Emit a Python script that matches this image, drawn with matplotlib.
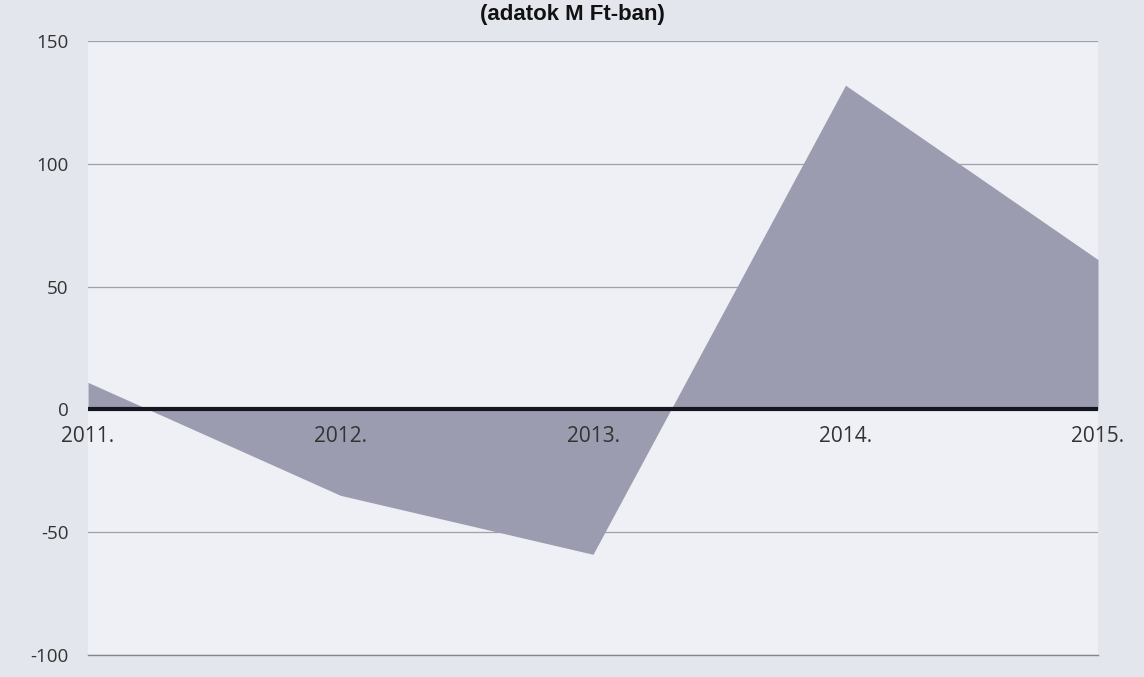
import matplotlib
matplotlib.use("Agg")
import matplotlib.pyplot as plt

years = ["2011.", "2012.", "2013.", "2014.", "2015."]
values = [11, -35, -59, 132, 61]
yticks = [-100, -50, 0, 50, 100, 150]
title = "(adatok M Ft-ban)"

plt.rcParams['font.family'] = ['Open Sans', 'DejaVu Sans']

fig = plt.figure(figsize=(11.44, 6.77), dpi=100, facecolor='#e4e6ed')
ax = fig.add_axes([88/1144, 1-655/677, (1098-88)/1144, (655-41)/677])
ax.set_facecolor('#eef0f5')

x = list(range(len(years)))
ax.fill_between(x, values, 0, color='#9c9cb0', linewidth=0, zorder=2)

ax.set_xlim(0, len(years)-1)
ax.set_ylim(-100, 150)
ax.set_yticks(yticks)
ax.set_yticklabels([str(v) for v in yticks], fontsize=13.5, color='#333333')
ax.yaxis.grid(True, color='#a0a0aa', linewidth=0.9, zorder=1)
ax.axhline(-100, color='#858590', linewidth=1.0, clip_on=False, zorder=1)
ax.tick_params(axis='y', length=0, pad=14)
ax.set_xticks([])
for s in ax.spines.values():
    s.set_visible(False)

ax.axhline(0, color='#151520', linewidth=3, zorder=3)
for xi, lab in zip(x, years):
    ax.annotate(lab, (xi, 0), xytext=(0, -12), textcoords='offset points',
                ha='center', va='top', fontsize=15, color='#333333', zorder=4)

fig.text(0.5, 1-20/677, title, ha='center', va='baseline', fontsize=16,
         fontweight='bold', family='Liberation Sans', color='#111111')

fig.savefig('out.png', dpi=100, facecolor=fig.get_facecolor())
